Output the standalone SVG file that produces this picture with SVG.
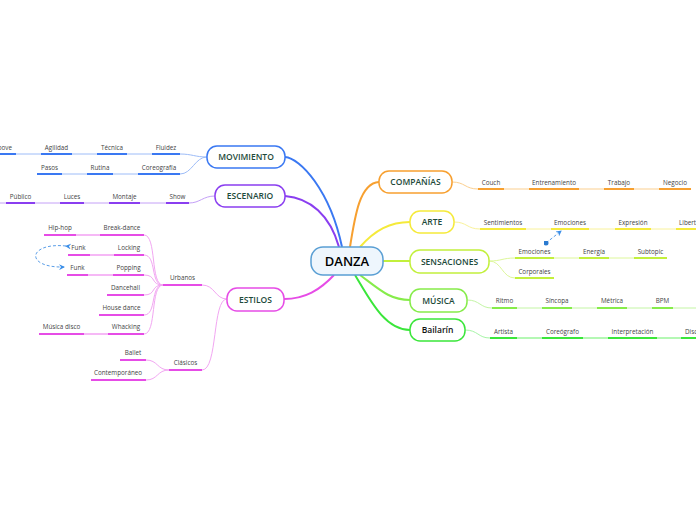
<svg xmlns="http://www.w3.org/2000/svg" width="696" height="520" viewBox="0 0 696 520">
<defs>
<style>
.node{fill:#ffffff;stroke-width:1.5}
.main{font-family:"Open Sans","Noto Sans",sans-serif;font-size:8.5px;font-weight:600;fill:#1d4a3a;text-anchor:middle}
.sub{font-family:"Open Sans","Noto Sans",sans-serif;font-size:6.3px;fill:#444444;text-anchor:middle}
.c{fill:none}
.u{fill:none;stroke-width:2}
.t{fill:none;stroke-width:1}
</style>
<marker id="arr" viewBox="0 0 6 6" refX="5" refY="3" markerWidth="6" markerHeight="6" orient="auto" markerUnits="userSpaceOnUse">
<path d="M0,0 L6,3 L0,6 L2,3 Z" fill="#3a8ee8"/>
</marker>
<marker id="dot" viewBox="0 0 6 6" refX="3" refY="3" markerWidth="5" markerHeight="5" markerUnits="userSpaceOnUse">
<circle cx="3" cy="3" r="3" fill="#2a7ad0"/>
</marker>
</defs>
<rect width="696" height="520" fill="#ffffff"/>

<g id="connectors">
<path class="c" stroke="#3a78f2" stroke-width="2" d="M285,157 C300,158 330,190 342,247"/>
<path class="c" stroke="#8a3ef0" stroke-width="2" d="M285,196 C310,198 330,215 339,247"/>
<path class="c" stroke="#f7a030" stroke-width="2" d="M350,247 C355,215 360,183 379,182"/>
<path class="c" stroke="#f5ea3a" stroke-width="2" d="M360,247 C375,230 390,222 410,222"/>
<path class="c" stroke="#c2f03c" stroke-width="2" d="M383,261 L410,261"/>
<path class="c" stroke="#86ec4a" stroke-width="2" d="M360,275 C380,290 390,300 410,300"/>
<path class="c" stroke="#3ae63a" stroke-width="2" d="M355,275 C370,300 385,330 410,330"/>
<path class="c" stroke="#e64ce6" stroke-width="2" d="M334,275 C320,290 305,299 284,299"/>

<path class="t" stroke="#fbcf8f" d="M452,182 C465,182 465,189 478,189 L691,189"/>
<path class="u" stroke="#f7a030" d="M478,189 H504 M529,189 H579 M604,189 H634 M659,189 H691"/>
<path class="t" stroke="#f9f29a" d="M454,222 C467,222 467,229 480,229 L696,229"/>
<path class="u" stroke="#f5ea3a" d="M480,229 H526 M551,229 H589 M615,229 H651 M676,229 H696"/>
<path class="t" stroke="#ddf79a" d="M489,261 C502,261 502,258 515,258 L667,258 M489,261 C502,261 502,278 515,278"/>
<path class="u" stroke="#c2f03c" d="M515,258 H554 M579,258 H609 M634,258 H667 M515,278 H554"/>
<path class="t" stroke="#c3f5a4" d="M467,300 C480,300 480,308 492,308 L696,308"/>
<path class="u" stroke="#86ec4a" d="M492,308 H517 M542,308 H572 M597,308 H627 M652,308 H673"/>
<path class="t" stroke="#a6f5a6" d="M465,330 C478,330 478,338 490,338"/>
<path class="u" stroke="#b4f8b4" d="M517,338 H542 M583,338 H608 M657,338 H681"/>
<path class="u" stroke="#3ae63a" d="M490,338 H517 M542,338 H583 M608,338 H657 M681,338 H696"/>

<path class="t" stroke="#9dbcf8" d="M207,157 C195,157 192,154 180,154 L0,154 M207,157 C195,157 192,174 180,174 L37,174"/>
<path class="u" stroke="#3a78f2" d="M0,154 H16 M41,154 H72 M97,154 H127 M152,154 H180 M37,174 H62 M87,174 H113 M138,174 H180"/>
<path class="t" stroke="#c4a0f7" d="M215,196 C203,196 200,203 189,203 L0,203"/>
<path class="u" stroke="#8a3ef0" d="M6,203 H35 M60,203 H84 M109,203 H140 M166,203 H189"/>

<path class="t" stroke="#f2a6f2" d="M227,299 C215,299 215,285 202,285 M227,299 C212,299 218,370 202,370"/>
<path class="u" stroke="#e64ce6" d="M163,285 H202 M169,370 H202"/>
<path class="t" stroke="#f2a6f2" d="M163,285 C150,285 157,235 144,235 M163,285 C150,285 157,255 144,255 M163,285 C150,285 157,275 144,275 M163,285 C150,285 157,295 144,295 M163,285 C150,285 157,315 144,315 M163,285 C150,285 157,334 144,334"/>
<path class="u" stroke="#f6b8f6" d="M76,235 H100 M90,255 H114 M88,275 H113 M84,334 H108"/>
<path class="u" stroke="#e64ce6" d="M100,235 H144 M44,235 H76 M114,255 H144 M68,255 H90 M113,275 H144 M67,275 H88 M107,295 H144 M99,315 H144 M108,334 H144 M39,334 H84"/>
<path class="t" stroke="#f2a6f2" d="M169,370 C157,370 158,360 146,360 M169,370 C157,370 158,380 146,380"/>
<path class="u" stroke="#e64ce6" d="M120,360 H146 M91,380 H146"/>

<path class="c" stroke="#5a9ee8" stroke-width="1" stroke-dasharray="3,2" marker-start="url(#arr)" marker-end="url(#arr)" d="M66,246 C28,242 24,268 64,267"/>
<path class="c" stroke="#5a9ee8" stroke-width="1" stroke-dasharray="3,2" marker-start="url(#dot)" marker-end="url(#arr)" d="M546,243 L561,231"/>
</g>

<g id="n-danza">
<rect x="311" y="247" width="72" height="28" rx="12" fill="#eef6fd" stroke="#5a9fd4" stroke-width="1.5"/>
<text x="347" y="266" font-family="'Open Sans','Noto Sans',sans-serif" font-size="13" font-weight="600" fill="#000000" text-anchor="middle">DANZA</text>
</g>
<g id="n-companias">
<rect class="node" x="379" y="171" width="73" height="22" rx="10" stroke="#f7a030"/>
<text class="main" x="415.5" y="185">COMPAÑÍAS</text>
</g>
<g id="n-arte">
<rect class="node" x="410" y="211" width="44" height="22" rx="10" stroke="#f5ea3a"/>
<text class="main" x="432" y="225">ARTE</text>
</g>
<g id="n-sensaciones">
<rect class="node" x="410" y="250" width="79" height="23" rx="10" stroke="#c2f03c"/>
<text class="main" x="449.5" y="264.5">SENSACIONES</text>
</g>
<g id="n-musica">
<rect class="node" x="410" y="289" width="57" height="23" rx="10" stroke="#86ec4a"/>
<text class="main" x="438.5" y="303.5">MÚSICA</text>
</g>
<g id="n-bailarin">
<rect class="node" x="410" y="319" width="55" height="22" rx="10" stroke="#3ae63a"/>
<text class="main" x="437.5" y="333" style="fill:#111111">Bailarín</text>
</g>
<g id="n-movimiento">
<rect class="node" x="207" y="146" width="78" height="22" rx="10" stroke="#3a78f2"/>
<text class="main" x="246" y="160">MOVIMIENTO</text>
</g>
<g id="n-escenario">
<rect class="node" x="215" y="185" width="70" height="22" rx="10" stroke="#8a3ef0"/>
<text class="main" x="250" y="199">ESCENARIO</text>
</g>
<g id="n-estilos">
<rect class="node" x="227" y="288" width="57" height="23" rx="10" stroke="#e64ce6"/>
<text class="main" x="255.5" y="302.5">ESTILOS</text>
</g>

<g id="subtopics">
<text class="sub" x="491" y="184.5">Couch</text>
<text class="sub" x="554" y="184.5">Entrenamiento</text>
<text class="sub" x="619" y="184.5">Trabajo</text>
<text class="sub" x="675" y="184.5">Negocio</text>
<text class="sub" x="503" y="224.5">Sentimientos</text>
<text class="sub" x="570" y="224.5">Emociones</text>
<text class="sub" x="633" y="224.5">Expresión</text>
<text class="sub" x="679" y="224.5" style="text-anchor:start">Libertad</text>
<text class="sub" x="534.5" y="253.5">Emociones</text>
<text class="sub" x="594" y="253.5">Energía</text>
<text class="sub" x="650.5" y="253.5">Subtopic</text>
<text class="sub" x="534.5" y="273.5">Corporales</text>
<text class="sub" x="504.5" y="302.5">Ritmo</text>
<text class="sub" x="557" y="302.5">Síncopa</text>
<text class="sub" x="612" y="302.5">Métrica</text>
<text class="sub" x="662.5" y="302.5">BPM</text>
<text class="sub" x="503.5" y="333.5">Artista</text>
<text class="sub" x="562.5" y="333.5">Coreógrafo</text>
<text class="sub" x="632.5" y="333.5">Interpretación</text>
<text class="sub" x="685" y="333.5" style="text-anchor:start">Disco</text>
<text class="sub" x="12" y="149.5" style="text-anchor:end">Groove</text>
<text class="sub" x="56.5" y="149.5">Agilidad</text>
<text class="sub" x="112" y="149.5">Técnica</text>
<text class="sub" x="166" y="149.5">Fluidez</text>
<text class="sub" x="49.5" y="169.5">Pasos</text>
<text class="sub" x="100" y="169.5">Rutina</text>
<text class="sub" x="159" y="169.5">Coreografía</text>
<text class="sub" x="20.5" y="198.5">Público</text>
<text class="sub" x="72" y="198.5">Luces</text>
<text class="sub" x="124.5" y="198.5">Montaje</text>
<text class="sub" x="177.5" y="198.5">Show</text>
<text class="sub" x="182.5" y="279.5">Urbanos</text>
<text class="sub" x="185.5" y="364.5">Clásicos</text>
<text class="sub" x="122" y="229.5">Break-dance</text>
<text class="sub" x="60" y="229.5">Hip-hop</text>
<text class="sub" x="129" y="249.5">Locking</text>
<text class="sub" x="78.5" y="249.5">Funk</text>
<text class="sub" x="128.5" y="269.5">Popping</text>
<text class="sub" x="77.5" y="269.5">Funk</text>
<text class="sub" x="125.5" y="289.5">Dancehall</text>
<text class="sub" x="121.5" y="309.5">House dance</text>
<text class="sub" x="126" y="328.5">Whacking</text>
<text class="sub" x="61.5" y="328.5">Música disco</text>
<text class="sub" x="133" y="354.5">Ballet</text>
<text class="sub" x="118" y="374.5">Contemporáneo</text>
</g>
</svg>
